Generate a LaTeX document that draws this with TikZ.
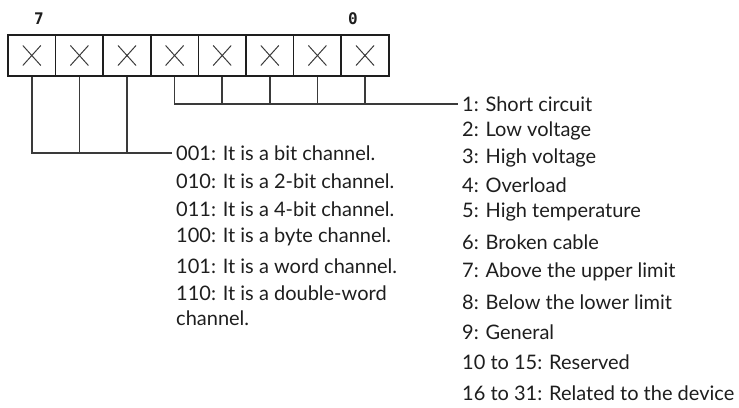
\documentclass[tikz,border=0pt]{standalone}
\usepackage{fontspec}
\setmainfont{Lato}
\setmonofont{DejaVu Sans Mono}
\definecolor{ink}{HTML}{1E1E1E}
\definecolor{wire}{HTML}{3A3A3A}

\begin{document}
\begin{tikzpicture}[x=1pt,y=-1pt,
    bitcell/.style={draw=ink,line width=1.5pt,minimum width=47.6pt,minimum height=41pt,
      inner sep=0pt,path picture={
        \draw[wire,line width=1pt] (path picture bounding box.center) ++(-9pt,-10pt) -- ++(18pt,20pt)
          (path picture bounding box.center) ++(-9pt,10pt) -- ++(18pt,-20pt);}},
    entry/.style={anchor=west,inner ysep=0pt,inner xsep=4.5pt,text=ink,
      font=\fontsize{20}{25}\selectfont,align=left},
    bitno/.style={text=ink,inner sep=0pt,font=\ttfamily\bfseries\fontsize{16}{16}\selectfont},
    wire/.style={draw=wire,line width=1.6pt}]
  \useasboundingbox (0,0) rectangle (739,407);
  % status byte: bit 7 on the left, bit 0 on the right
  \node[bitno] (hi) at (39,19) {7};
  \node[bitno] (lo) at (353,19) {0};
  \node[bitcell] (b7) at (31.8,55.5) {};
  \node[bitcell] (b6) at (79.4,55.5) {};
  \node[bitcell] (b5) at (127,55.5) {};
  \node[bitcell] (b4) at (174.6,55.5) {};
  \node[bitcell] (b3) at (222.2,55.5) {};
  \node[bitcell] (b2) at (269.8,55.5) {};
  \node[bitcell] (b1) at (317.4,55.5) {};
  \node[bitcell] (b0) at (365,55.5) {};
  % bits 7..5: channel type
  \node[entry] (cA) at (171.5,153) {001: It is a bit channel.};
  \node[entry] (cB) at (171.5,181) {010: It is a 2-bit channel.};
  \node[entry] (cC) at (171.5,209) {011: It is a 4-bit channel.};
  \node[entry] (cD) at (171.5,237) {100: It is a byte channel.};
  \node[entry] (cE) at (171.5,266) {101: It is a word channel.};
  \node[entry] (cF) at (171.5,305.5) {110: It is a double-word\\channel.};
  % bits 4..0: error type
  \node[entry] (eA) at (457.5,104) {1: Short circuit};
  \node[entry] (eB) at (457.5,131) {2: Low voltage};
  \node[entry] (eC) at (457.5,158) {3: High voltage};
  \node[entry] (eD) at (457.5,185) {4: Overload};
  \node[entry] (eE) at (457.5,212) {5: High temperature};
  \node[entry] (eF) at (457.5,242) {6: Broken cable};
  \node[entry] (eG) at (457.5,272) {7: Above the upper limit};
  \node[entry] (eH) at (457.5,302) {8: Below the lower limit};
  \node[entry] (eI) at (457.5,332) {9: General};
  \node[entry] (eJ) at (457.5,362) {10 to 15: Reserved};
  \node[entry] (eK) at (457.5,393) {16 to 31: Related to the device};
  \draw[wire] (b7.south) |- (cA.west);
  \draw[wire] (b6.south) -- (b6.south |- cA.west);
  \draw[wire] (b5.south) -- (b5.south |- cA.west);
  \draw[wire] (b4.south) |- (eA.west);
  \draw[wire] (b3.south) -- (b3.south |- eA.west);
  \draw[wire] (b2.south) -- (b2.south |- eA.west);
  \draw[wire] (b1.south) -- (b1.south |- eA.west);
  \draw[wire] (b0.south) -- (b0.south |- eA.west);
\end{tikzpicture}
\end{document}
